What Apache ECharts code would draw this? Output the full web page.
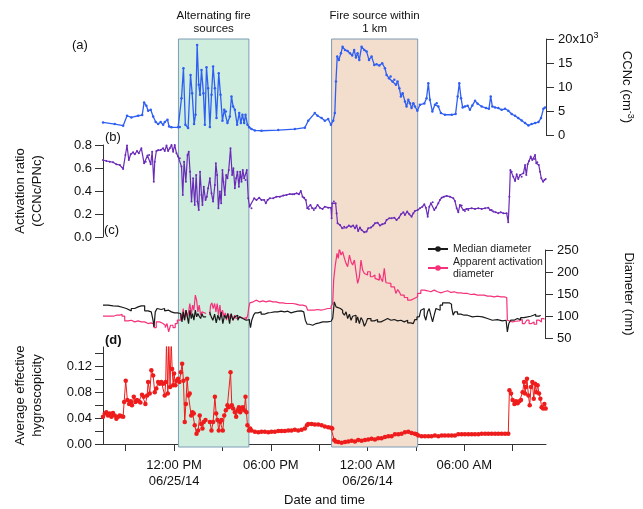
<!DOCTYPE html>
<html>
<head>
<meta charset="utf-8">
<script src="https://cdn.jsdelivr.net/npm/echarts@6/dist/echarts.min.js"></script>
<style>
html, body { margin: 0; padding: 0; background: #fff; }
#chart { width: 643px; height: 509px; }
</style>
</head>
<body>
<div id="chart"></div>
<script>
// time is in hours counted from 06/25/14 00:00
var timeRange = [7.59, 35.07];
var tickHours = [9, 12, 15, 18, 21, 24, 27, 30, 33];
var labelHours = [12, 18, 24, 30];
var labelText = ['12:00 PM\n06/25/14', '06:00 PM', '12:00 AM\n06/26/14', '06:00 AM'];
var bandRanges = [[12.27, 16.64], [21.77, 27.11]];
var bandNames = ['Alternating fire\nsources', 'Fire source within\n1 km'];

var kappaTicks = [0, 0.02, 0.04, 0.06, 0.08, 0.10, 0.12, 0.14];
var kappaLabels = [0, 0.04, 0.08, 0.12];

// (a) CCNc, cm-3
var ccnc = [[7.59,2620],[8.32,2280],[8.84,1930],[9.08,4010],[9.35,3660],[9.77,4010],[10.02,4150],[10.14,6780],[10.28,6090],[10.39,5050],[10.55,5250],[10.70,3870],[10.86,2690],[11.01,2280],[11.17,2690],[11.32,2140],[11.42,2690],[11.59,3180],[11.69,1790],[11.84,1590],[12.25,1590],[12.35,1660],[12.46,7680],[12.58,13910],[12.70,2140],[12.87,1450],[13.02,12520],[13.12,8720],[13.24,2280],[13.33,4220],[13.43,18760],[13.53,10450],[13.61,8370],[13.70,13560],[13.82,8720],[13.91,2140],[14.01,14120],[14.11,9760],[14.22,1660],[14.32,8370],[14.42,14260],[14.53,9760],[14.63,3520],[14.77,12870],[14.88,8370],[15.00,2970],[15.11,5250],[15.21,4910],[15.31,2480],[15.46,3870],[15.56,8030],[15.66,5950],[15.77,5250],[15.91,2140],[16.04,4560],[16.14,2480],[16.24,4220],[16.35,2480],[16.43,4220],[16.55,2140],[16.66,1590],[16.80,1240],[17.01,960],[17.42,890],[18.46,1030],[19.49,1240],[20.11,1520],[20.32,2970],[20.73,4560],[20.90,4010],[21.15,3520],[21.35,2970],[21.56,3320],[21.73,2140],[21.87,2970],[21.97,4560],[22.04,11140],[22.12,16330],[22.22,15640],[22.35,17020],[22.45,18410],[22.60,17720],[22.76,17510],[22.91,17020],[23.05,16540],[23.17,17720],[23.28,16120],[23.38,17020],[23.49,15640],[23.63,18410],[23.80,17720],[23.94,17370],[24.09,15640],[24.25,16330],[24.42,14600],[24.56,14740],[24.73,14460],[24.91,14950],[25.08,13910],[25.18,12520],[25.33,11830],[25.43,12180],[25.55,11140],[25.66,11490],[25.76,10450],[25.86,11140],[25.97,9760],[26.07,8030],[26.18,8720],[26.32,6990],[26.42,5950],[26.53,7330],[26.63,6640],[26.73,5600],[26.84,6640],[26.94,5950],[27.09,5050],[27.25,6300],[27.52,6570],[27.66,7680],[27.77,10790],[27.87,7330],[28.02,4910],[28.18,6300],[28.29,6640],[28.39,5950],[28.55,4560],[28.80,4220],[29.22,4220],[29.46,4360],[29.59,8030],[29.69,10790],[29.80,7680],[29.90,5740],[30.04,5950],[30.21,6090],[30.35,5250],[30.50,6160],[30.67,7120],[30.83,6500],[31.08,5950],[31.35,5600],[31.53,5460],[31.64,8030],[31.74,5950],[31.91,5740],[32.11,5600],[32.32,5250],[32.53,5460],[32.73,5050],[32.94,4360],[33.15,4010],[33.35,3520],[33.56,3040],[33.77,2480],[33.98,2000],[34.18,2280],[34.39,2480],[34.60,2690],[34.76,3520],[34.91,5460],[35.01,5740]];

// (b) activation ratio CCNc/PNc
var actRatio = [[7.59,0.670],[7.80,0.661],[8.01,0.655],[8.21,0.650],[8.42,0.632],[8.63,0.626],[8.84,0.592],[8.98,0.713],[9.08,0.795],[9.19,0.670],[9.31,0.719],[9.46,0.737],[9.56,0.719],[9.70,0.748],[9.81,0.728],[9.97,0.771],[10.14,0.641],[10.24,0.655],[10.35,0.708],[10.45,0.713],[10.55,0.632],[10.64,0.742],[10.74,0.481],[10.80,0.655],[10.90,0.748],[11.01,0.757],[11.17,0.757],[11.32,0.771],[11.42,0.748],[11.53,0.795],[11.63,0.748],[11.73,0.771],[11.84,0.800],[11.94,0.742],[12.04,0.800],[12.15,0.728],[12.25,0.699],[12.35,0.684],[12.46,0.612],[12.54,0.366],[12.62,0.655],[12.73,0.481],[12.83,0.713],[12.91,0.742],[12.99,0.568],[13.08,0.308],[13.18,0.510],[13.28,0.279],[13.37,0.539],[13.45,0.308],[13.53,0.235],[13.61,0.568],[13.70,0.366],[13.76,0.279],[13.84,0.438],[13.95,0.322],[14.03,0.351],[14.11,0.424],[14.22,0.510],[14.32,0.380],[14.42,0.308],[14.53,0.452],[14.59,0.641],[14.67,0.539],[14.75,0.250],[14.84,0.395],[14.92,0.293],[15.00,0.583],[15.06,0.481],[15.15,0.366],[15.23,0.539],[15.31,0.510],[15.39,0.583],[15.50,0.771],[15.60,0.539],[15.68,0.597],[15.77,0.424],[15.85,0.510],[15.93,0.568],[16.02,0.438],[16.10,0.568],[16.18,0.481],[16.26,0.583],[16.35,0.510],[16.43,0.496],[16.51,0.583],[16.60,0.337],[16.68,0.264],[16.80,0.250],[16.97,0.337],[17.11,0.322],[17.28,0.342],[17.42,0.322],[17.59,0.322],[17.69,0.293],[17.80,0.322],[17.94,0.337],[18.15,0.337],[18.35,0.351],[18.56,0.351],[18.77,0.360],[18.97,0.366],[19.18,0.374],[19.33,0.371],[19.45,0.371],[19.60,0.380],[19.74,0.371],[19.86,0.400],[19.97,0.351],[20.07,0.342],[20.17,0.322],[20.26,0.250],[20.36,0.244],[20.46,0.279],[20.57,0.250],[20.67,0.235],[20.77,0.250],[20.90,0.279],[21.04,0.255],[21.21,0.244],[21.35,0.264],[21.56,0.255],[21.73,0.255],[21.77,0.163],[21.81,0.293],[21.91,0.308],[22.02,0.293],[22.08,0.206],[22.14,0.119],[22.29,0.105],[22.43,0.076],[22.55,0.090],[22.70,0.082],[22.84,0.099],[22.97,0.090],[23.11,0.099],[23.22,0.076],[23.32,0.099],[23.42,0.052],[23.53,0.082],[23.63,0.061],[23.80,0.041],[23.94,0.047],[24.04,0.076],[24.21,0.082],[24.35,0.099],[24.46,0.119],[24.62,0.125],[24.77,0.099],[24.91,0.110],[25.08,0.119],[25.18,0.148],[25.35,0.163],[25.49,0.163],[25.66,0.168],[25.80,0.148],[25.95,0.168],[26.07,0.197],[26.22,0.215],[26.32,0.192],[26.46,0.221],[26.59,0.197],[26.73,0.177],[26.84,0.206],[26.94,0.226],[27.11,0.235],[27.25,0.250],[27.40,0.264],[27.52,0.284],[27.62,0.255],[27.73,0.177],[27.83,0.264],[27.93,0.293],[28.04,0.302],[28.14,0.235],[28.24,0.255],[28.39,0.293],[28.49,0.322],[28.60,0.342],[28.74,0.351],[28.91,0.357],[29.11,0.351],[29.32,0.337],[29.42,0.313],[29.53,0.250],[29.63,0.215],[29.73,0.279],[29.84,0.273],[29.94,0.235],[30.04,0.226],[30.15,0.244],[30.25,0.235],[30.46,0.250],[30.66,0.244],[30.87,0.250],[31.08,0.244],[31.29,0.250],[31.49,0.255],[31.60,0.235],[31.70,0.235],[31.80,0.221],[31.95,0.215],[32.11,0.206],[32.26,0.215],[32.42,0.206],[32.63,0.206],[32.73,0.128],[32.80,0.351],[32.86,0.583],[32.94,0.568],[33.04,0.525],[33.15,0.487],[33.25,0.545],[33.35,0.505],[33.46,0.539],[33.56,0.525],[33.67,0.554],[33.77,0.626],[33.85,0.539],[33.93,0.632],[34.02,0.661],[34.12,0.699],[34.22,0.670],[34.33,0.679],[34.39,0.713],[34.47,0.641],[34.53,0.650],[34.62,0.626],[34.70,0.568],[34.78,0.510],[34.89,0.481],[34.97,0.496],[35.05,0.505]];

// (c) median diameter, nm
var medianDiam = [[7.59,124.6],[7.90,123.1],[8.22,122.3],[8.53,119.3],[8.84,117.0],[9.04,113.2],[9.15,111.7],[9.35,117.0],[9.56,120.8],[9.77,123.1],[9.97,123.1],[10.18,111.7],[10.39,109.4],[10.59,109.4],[10.70,90.4],[10.76,75.2],[10.84,109.4],[10.95,117.0],[11.05,114.7],[11.21,117.0],[11.42,111.7],[11.53,113.2],[11.67,109.4],[11.84,107.1],[12.04,107.1],[12.21,109.4],[12.31,105.6],[12.42,101.8],[12.50,86.6],[12.58,109.4],[12.66,90.4],[12.75,113.2],[12.83,98.0],[12.91,82.8],[12.99,113.2],[13.08,94.2],[13.16,105.6],[13.24,90.4],[13.33,113.2],[13.41,98.0],[13.49,105.6],[13.57,99.5],[13.66,94.2],[13.74,105.6],[13.82,98.0],[14.0,null],[14.22,109.4],[14.32,98.0],[14.42,90.4],[14.53,104.1],[14.63,84.3],[14.73,101.8],[14.84,90.4],[14.94,109.4],[15.04,82.8],[15.15,101.8],[15.25,94.2],[15.35,105.6],[15.46,82.8],[15.56,105.6],[15.66,90.4],[15.77,98.0],[15.87,101.8],[15.97,90.4],[16.08,98.0],[16.18,94.2],[16.28,96.5],[16.39,90.4],[16.49,94.2],[16.59,91.9],[16.70,86.6],[16.76,73.7],[16.84,90.4],[16.95,101.8],[17.05,107.1],[17.22,109.4],[17.42,104.1],[17.63,107.1],[17.84,107.9],[18.04,109.4],[18.25,109.4],[18.46,110.9],[18.66,109.4],[18.87,110.9],[19.08,107.1],[19.28,109.4],[19.49,110.9],[19.70,111.7],[19.91,109.4],[20.07,105.6],[20.17,90.4],[20.28,81.3],[20.42,79.0],[20.63,82.8],[20.84,84.3],[21.04,86.6],[21.25,86.6],[21.56,88.1],[21.77,90.4],[21.87,94.2],[21.97,132.2],[22.08,120.8],[22.18,117.0],[22.35,113.2],[22.49,107.1],[22.60,101.8],[22.70,109.4],[22.80,94.2],[22.91,104.1],[23.01,90.4],[23.11,99.5],[23.22,101.8],[23.32,84.3],[23.42,98.0],[23.53,82.8],[23.63,96.5],[23.73,90.4],[23.84,76.7],[23.94,84.3],[24.04,94.2],[24.25,88.9],[24.46,91.9],[24.66,86.6],[24.87,90.4],[25.08,94.2],[25.29,90.4],[25.49,91.9],[25.70,88.9],[25.91,90.4],[26.11,86.6],[26.32,90.4],[26.53,84.3],[26.73,82.8],[26.88,86.6],[26.98,91.9],[27.11,98.0],[27.25,101.8],[27.35,113.2],[27.46,117.0],[27.56,101.8],[27.66,90.4],[27.77,109.4],[27.87,117.0],[27.97,101.8],[28.08,86.6],[28.18,101.8],[28.29,117.0],[28.39,113.2],[28.55,124.6],[28.70,129.9],[28.91,129.9],[29.11,126.9],[29.26,120.8],[29.36,101.8],[29.46,109.4],[29.63,104.1],[29.84,101.8],[30.04,101.8],[30.25,98.0],[30.56,99.5],[30.87,98.0],[31.18,94.2],[31.49,90.4],[31.80,91.9],[32.11,88.9],[32.42,90.4],[32.65,86.6],[32.73,63.8],[32.82,82.8],[32.94,90.4],[33.15,94.2],[33.35,91.9],[33.56,96.5],[33.77,98.0],[33.98,99.5],[34.18,101.8],[34.35,104.1],[34.49,99.5],[34.70,101.8],[34.80,98.0]];

// (c) apparent activation diameter, nm
var actDiam = [[7.59,99.5],[7.90,99.5],[8.22,101.8],[8.42,101.8],[8.63,104.1],[8.77,99.5],[8.94,88.9],[9.15,90.4],[9.35,86.6],[9.56,88.9],[9.77,86.6],[9.97,86.6],[10.18,82.8],[10.39,84.3],[10.59,81.3],[10.76,73.7],[10.90,86.6],[11.11,82.8],[11.32,79.0],[11.46,73.7],[11.57,82.8],[11.67,63.8],[11.79,79.0],[11.94,73.7],[12.08,82.8],[12.21,90.4],[12.29,90.4],[12.42,105.6],[12.50,94.2],[12.58,117.0],[12.66,90.4],[12.75,113.2],[12.83,98.0],[12.91,109.4],[12.99,128.4],[13.08,101.8],[13.16,124.6],[13.24,113.2],[13.33,147.4],[13.41,136.0],[13.49,109.4],[13.57,124.6],[13.66,101.8],[13.74,109.4],[13.82,105.6],[14.0,null],[14.22,101.8],[14.28,124.6],[14.36,129.9],[14.44,117.0],[14.53,128.4],[14.61,109.4],[14.69,128.4],[14.77,101.8],[14.86,124.6],[14.94,96.5],[15.02,113.2],[15.11,98.0],[15.19,107.1],[15.27,90.4],[15.35,105.6],[15.44,94.2],[15.52,104.1],[15.60,98.0],[15.68,90.4],[15.77,101.8],[15.87,94.2],[15.97,98.0],[16.10,99.5],[16.22,94.2],[16.35,96.5],[16.49,91.9],[16.59,101.8],[16.66,120.8],[16.72,129.9],[16.80,132.2],[16.93,136.0],[17.11,132.2],[17.32,134.5],[17.53,132.2],[17.73,134.5],[17.94,132.2],[18.15,132.2],[18.35,129.9],[18.56,129.9],[18.77,128.4],[18.97,128.4],[19.18,128.4],[19.39,126.9],[19.60,124.6],[19.80,124.6],[20.01,122.3],[20.22,122.3],[20.32,113.2],[20.53,113.2],[20.73,114.7],[20.94,113.2],[21.15,114.7],[21.35,117.0],[21.56,117.0],[21.77,122.3],[21.87,128.4],[21.93,181.6],[22.02,212.0],[22.08,215.8],[22.14,242.4],[22.22,231.0],[22.28,253.8],[22.39,238.6],[22.49,246.2],[22.60,231.0],[22.70,219.6],[22.80,212.0],[22.91,238.6],[23.01,223.4],[23.11,215.8],[23.22,227.2],[23.32,200.6],[23.42,174.0],[23.53,189.2],[23.63,227.2],[23.73,204.4],[23.84,196.8],[23.94,193.0],[24.04,200.6],[24.21,189.2],[24.35,193.0],[24.50,185.4],[24.62,181.6],[24.77,196.8],[24.87,185.4],[24.97,177.8],[25.08,208.2],[25.18,175.5],[25.29,174.0],[25.49,166.4],[25.70,162.6],[25.80,151.2],[25.91,160.3],[26.01,155.0],[26.11,147.4],[26.32,142.1],[26.53,136.0],[26.73,139.8],[26.94,142.1],[27.04,143.6],[27.15,151.2],[27.35,158.8],[27.56,157.3],[27.77,155.0],[27.97,158.8],[28.18,155.0],[28.39,152.7],[28.60,155.0],[28.80,157.3],[29.01,153.5],[29.22,155.0],[29.42,152.7],[29.63,152.7],[29.84,151.2],[30.04,151.2],[30.25,148.9],[30.46,149.7],[30.66,147.4],[30.87,147.4],[31.08,147.4],[31.29,145.1],[31.49,145.1],[31.70,143.6],[31.91,145.1],[32.11,143.6],[32.32,143.6],[32.53,142.1],[32.69,143.6],[32.73,90.4],[32.84,86.6],[33.04,88.1],[33.25,88.9],[33.46,91.9],[33.66,82.8],[33.81,79.0],[33.93,90.4],[34.08,82.8],[34.22,86.6],[34.39,81.3],[34.55,90.4],[34.70,86.6],[34.85,94.2],[35.01,91.9]];

// (d) average effective hygroscopicity
var kappa = [[7.59,0.042],[7.70,0.047],[7.80,0.049],[7.90,0.044],[8.01,0.047],[8.11,0.042],[8.21,0.048],[8.32,0.044],[8.42,0.039],[8.53,0.042],[8.63,0.044],[8.73,0.043],[8.84,0.042],[8.90,0.065],[9.00,0.098],[9.10,0.068],[9.21,0.062],[9.31,0.066],[9.39,0.060],[9.50,0.073],[9.60,0.065],[9.70,0.068],[9.81,0.066],[9.91,0.064],[10.01,0.076],[10.12,0.073],[10.22,0.062],[10.33,0.075],[10.39,0.096],[10.49,0.078],[10.59,0.114],[10.70,0.106],[10.80,0.080],[10.90,0.086],[11.01,0.096],[11.11,0.093],[11.21,0.096],[11.32,0.093],[11.42,0.075],[11.48,0.096],[11.53,0.160],[11.61,0.078],[11.67,0.160],[11.75,0.088],[11.82,0.160],[11.88,0.116],[11.94,0.091],[12.00,0.109],[12.08,0.091],[12.15,0.098],[12.25,0.101],[12.33,0.096],[12.42,0.111],[12.50,0.124],[12.58,0.098],[12.66,0.034],[12.73,0.062],[12.81,0.101],[12.89,0.075],[12.97,0.078],[13.06,0.044],[13.14,0.049],[13.22,0.047],[13.28,0.029],[13.39,0.016],[13.49,0.021],[13.59,0.044],[13.68,0.031],[13.76,0.024],[13.84,0.034],[13.95,0.037],[14.05,null],[14.22,0.034],[14.32,0.021],[14.42,0.034],[14.53,0.073],[14.61,0.047],[14.69,0.037],[14.77,0.021],[14.86,0.034],[14.94,0.037],[15.02,0.021],[15.11,0.044],[15.21,0.052],[15.31,0.060],[15.39,0.057],[15.50,0.111],[15.58,0.060],[15.66,0.055],[15.77,0.049],[15.85,0.042],[15.93,0.052],[16.02,0.057],[16.10,0.049],[16.18,0.055],[16.26,0.057],[16.35,0.052],[16.43,0.073],[16.49,0.049],[16.55,0.029],[16.64,0.021],[16.72,0.024],[16.80,0.021],[17.01,0.019],[17.22,0.018],[17.42,0.019],[17.63,0.019],[17.84,0.018],[18.04,0.019],[18.25,0.019],[18.46,0.020],[18.66,0.020],[18.87,0.020],[19.08,0.021],[19.28,0.021],[19.49,0.022],[19.70,0.021],[19.91,0.022],[20.11,0.024],[20.24,0.029],[20.32,0.031],[20.53,0.031],[20.73,0.030],[20.94,0.030],[21.15,0.029],[21.35,0.027],[21.56,0.026],[21.73,0.025],[21.81,0.024],[21.93,0.006],[22.02,0.004],[22.18,0.003],[22.39,0.002],[22.60,0.003],[22.80,0.004],[23.01,0.005],[23.22,0.004],[23.42,0.006],[23.63,0.005],[23.84,0.006],[24.04,0.007],[24.25,0.008],[24.46,0.007],[24.66,0.009],[24.87,0.009],[25.08,0.011],[25.29,0.012],[25.49,0.012],[25.70,0.015],[25.91,0.015],[26.11,0.016],[26.32,0.018],[26.53,0.019],[26.73,0.017],[26.94,0.016],[27.04,0.015],[27.15,0.013],[27.35,0.012],[27.56,0.012],[27.77,0.012],[27.97,0.012],[28.18,0.013],[28.39,0.012],[28.60,0.013],[28.80,0.013],[29.01,0.013],[29.22,0.013],[29.42,0.013],[29.63,0.015],[29.84,0.015],[30.04,0.015],[30.25,0.015],[30.46,0.015],[30.66,0.015],[30.87,0.015],[31.08,0.016],[31.29,0.016],[31.49,0.016],[31.70,0.016],[31.91,0.016],[32.11,0.016],[32.32,0.016],[32.53,0.016],[32.73,0.016],[32.80,0.083],[32.90,0.078],[33.00,0.068],[33.11,0.062],[33.21,0.066],[33.31,0.063],[33.42,0.066],[33.52,0.068],[33.62,0.080],[33.71,0.096],[33.77,0.078],[33.83,0.088],[33.89,0.101],[33.98,0.075],[34.06,0.060],[34.14,0.088],[34.22,0.096],[34.31,0.070],[34.39,0.093],[34.47,0.080],[34.55,0.091],[34.64,0.078],[34.72,0.070],[34.80,0.057],[34.89,0.055],[34.97,0.062],[35.05,0.055]];

var FONT = 'Liberation Sans';
var AXIS = '#333';
var chart = echarts.init(document.getElementById('chart'));

var gridBox = { left: 103, right: 97 };
function grid(top, height) {
    return { left: gridBox.left, right: gridBox.right, top: top, height: height, containLabel: false };
}
function hiddenX(i) {
    return { type: 'value', gridIndex: i, min: timeRange[0], max: timeRange[1], show: false };
}
var axisLineStyle = { show: true, lineStyle: { color: AXIS, width: 1 } };
var tickStyle = { show: true, length: 8, lineStyle: { color: AXIS } };
var supStyle = { s: { fontSize: 9, verticalAlign: 'bottom', padding: [0, 0, 7, 0] } };

var bandColors = ['#cfeedd', '#f3ddcd'];
var bandAreas = bandRanges.map(function (r, i) {
    return [
        { name: bandNames[i], xAxis: r[0], itemStyle: { color: bandColors[i], borderColor: '#7f9cb6', borderWidth: 1 } },
        { xAxis: r[1] }
    ];
});

var option = {
    animation: false,
    backgroundColor: '#fff',
    textStyle: { fontFamily: FONT },
    grid: [grid(39, 96), grid(145, 92), grid(250, 88), grid(347, 97), grid(39, 408)],
    xAxis: [
        hiddenX(0), hiddenX(1), hiddenX(2),
        {
            type: 'value', gridIndex: 3, min: timeRange[0], max: timeRange[1],
            offset: 3,
            axisLine: axisLineStyle,
            axisTick: { show: true, length: 7, lineStyle: { color: AXIS }, customValues: tickHours },
            axisLabel: {
                color: '#111', fontSize: 13, fontFamily: FONT, lineHeight: 16, margin: 10,
                customValues: labelHours,
                formatter: function (v) {
                    var i = labelHours.indexOf(Math.round(v));
                    return i >= 0 ? labelText[i] : '';
                }
            },
            splitLine: { show: false },
            name: 'Date and time', nameLocation: 'middle', nameGap: 47,
            nameTextStyle: { color: '#111', fontSize: 13, fontFamily: FONT }
        },
        hiddenX(4)
    ],
    yAxis: [
        {
            type: 'value', gridIndex: 0, position: 'right', min: 0, max: 20000, interval: 5000,
            axisLine: axisLineStyle, axisTick: tickStyle, splitLine: { show: false },
            axisLabel: {
                color: '#111', fontSize: 13, fontFamily: FONT, margin: 12,
                formatter: function (v) { return v === 20000 ? '20x10{s|3}' : String(v / 1000); },
                rich: supStyle
            },
            name: 'CCNc (cm{s|-3})', nameLocation: 'middle', nameGap: 73, nameRotate: -90,
            nameTextStyle: { color: '#111', fontSize: 13, fontFamily: FONT, rich: supStyle }
        },
        {
            type: 'value', gridIndex: 1, position: 'left', min: 0, max: 0.8, interval: 0.2,
            axisLine: axisLineStyle, axisTick: tickStyle, splitLine: { show: false },
            axisLabel: {
                color: '#111', fontSize: 13, fontFamily: FONT, margin: 11,
                formatter: function (v) { return v.toFixed(1); }
            },
            name: 'Activation ratio\n(CCNc/PNc)', nameLocation: 'middle', nameGap: 57,
            nameTextStyle: { color: '#111', fontSize: 13, fontFamily: FONT, lineHeight: 17 }
        },
        {
            type: 'value', gridIndex: 2, position: 'right', min: 50, max: 250, interval: 50,
            axisLine: axisLineStyle, axisTick: tickStyle, splitLine: { show: false },
            axisLabel: { color: '#111', fontSize: 13, fontFamily: FONT, margin: 12 },
            name: 'Diameter (nm)', nameLocation: 'middle', nameGap: 77, nameRotate: -90,
            nameTextStyle: { color: '#111', fontSize: 13, fontFamily: FONT }
        },
        {
            type: 'value', gridIndex: 3, position: 'left', min: 0, max: 0.15,
            axisLine: axisLineStyle,
            axisTick: { show: true, length: 8, lineStyle: { color: AXIS }, customValues: kappaTicks },
            splitLine: { show: false },
            axisLabel: {
                color: '#111', fontSize: 13, fontFamily: FONT, margin: 11,
                customValues: kappaLabels,
                formatter: function (v) { return v.toFixed(2); }
            },
            name: 'Average effective\nhygroscopicity', nameLocation: 'middle', nameGap: 57,
            nameTextStyle: { color: '#111', fontSize: 13, fontFamily: FONT, lineHeight: 17 }
        },
        { type: 'value', gridIndex: 4, min: 0, max: 1, show: false }
    ],
    legend: {
        left: 422, top: 238, orient: 'vertical', itemGap: 1, itemWidth: 20, itemHeight: 7,
        data: ['Median diameter', 'Apparent activation\ndiameter'],
        textStyle: { fontSize: 10.5, fontFamily: FONT, color: '#222', lineHeight: 12 }
    },
    graphic: [
        { type: 'text', left: 72, top: 39, style: { text: '(a)', font: '13px "Liberation Sans"', fill: '#111' } },
        { type: 'text', left: 105, top: 131, style: { text: '(b)', font: '13px "Liberation Sans"', fill: '#111' } },
        { type: 'text', left: 104, top: 224, style: { text: '(c)', font: '13px "Liberation Sans"', fill: '#111' } },
        { type: 'text', left: 105, top: 334, style: { text: '(d)', font: 'bold 13px "Liberation Sans"', fill: '#111' } }
    ],
    series: [
        {
            type: 'line', xAxisIndex: 4, yAxisIndex: 4, data: [], z: 0, silent: true,
            markArea: {
                silent: true,
                label: { show: true, position: 'top', distance: 3, color: '#111', fontSize: 11.5, lineHeight: 13, fontFamily: FONT },
                data: bandAreas
            }
        },
        {
            name: 'CCNc', type: 'line', xAxisIndex: 0, yAxisIndex: 0, data: ccnc, z: 3,
            symbol: 'circle', symbolSize: 2.5, lineStyle: { color: '#2f5ff2', width: 1.3 },
            itemStyle: { color: '#2f5ff2' }
        },
        {
            name: 'Activation ratio', type: 'line', xAxisIndex: 1, yAxisIndex: 1, data: actRatio, z: 3,
            symbol: 'circle', symbolSize: 2, lineStyle: { color: '#6a2bb8', width: 1.2 },
            itemStyle: { color: '#6a2bb8' }
        },
        {
            name: 'Apparent activation\ndiameter', type: 'line', xAxisIndex: 2, yAxisIndex: 2, data: actDiam, z: 3,
            symbol: 'circle', symbolSize: 6, showSymbol: false, step: 'end',
            lineStyle: { color: '#f5317a', width: 1.2 }, itemStyle: { color: '#f5317a' }
        },
        {
            name: 'Median diameter', type: 'line', xAxisIndex: 2, yAxisIndex: 2, data: medianDiam, z: 4,
            symbol: 'circle', symbolSize: 6, showSymbol: false, step: 'end',
            lineStyle: { color: '#1a1a1a', width: 1.2 }, itemStyle: { color: '#1a1a1a' }
        },
        {
            name: 'Kappa', type: 'line', xAxisIndex: 3, yAxisIndex: 3, data: kappa, z: 3,
            symbol: 'circle', symbolSize: 4.5, lineStyle: { color: '#ee1c1c', width: 1 },
            itemStyle: { color: '#ee1c1c' }
        }
    ]
};

chart.setOption(option);
</script>
</body>
</html>
